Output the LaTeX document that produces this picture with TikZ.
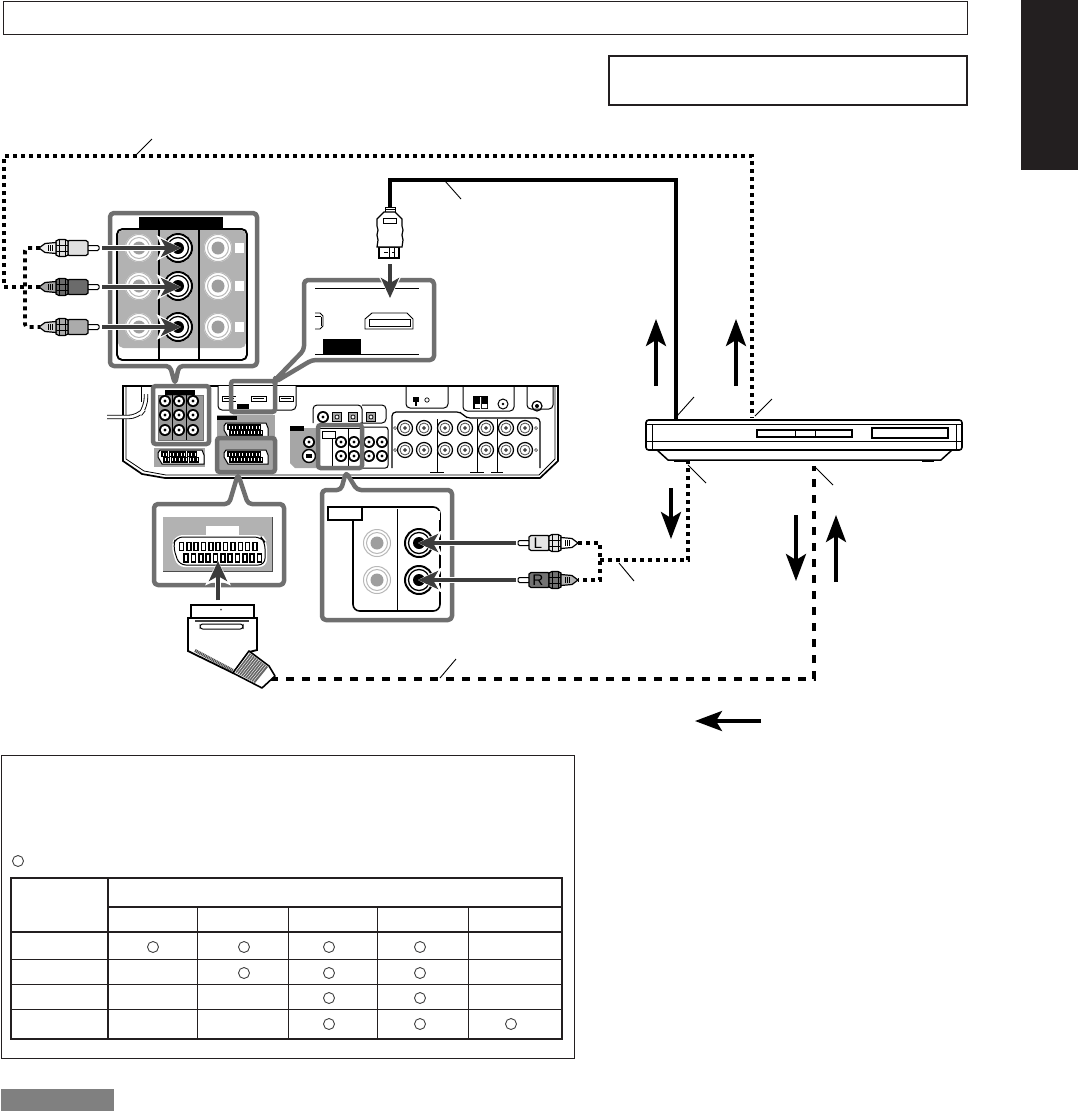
\documentclass[tikz,border=0pt]{standalone}
\usepackage{fontspec}
\setsansfont{Liberation Sans}
\usetikzlibrary{arrows.meta,calc}
\definecolor{callout}{HTML}{6F6F6F}
\definecolor{dk}{HTML}{3C3C3C}
\definecolor{panel}{HTML}{B2B2B2}
\definecolor{ink}{HTML}{231F20}
\def\px{0.75pt}
\tikzset{
  x=0.75pt,y=-0.75pt,
  frame/.style={draw=callout,line width=4.5*\px,fill=white,rounded corners=3pt,line join=round},
  mark box/.style={draw=callout,line width=4.5*\px,rounded corners=2pt},
  boldline/.style={draw=ink,line width=2*\px},
  dotcable/.style={draw=black,line width=4*\px,dash pattern=on 4*\px off 4*\px},
  smalldot/.style={draw=black,line width=3.6*\px,dash pattern=on 4*\px off 4*\px},
  dashcable/.style={draw=black,line width=4*\px,dash pattern=on 8*\px off 8*\px},
  solidcable/.style={draw=black,line width=4*\px},
  leader/.style={draw=black,line width=0.9*\px},
  bigarrow/.style={draw=black,line width=3.6*\px,-{Stealth[length=27*\px,width=20*\px,inset=6*\px]}},
  conarrow/.style={draw=dk,line width=4*\px,-{Stealth[length=20*\px,width=18*\px,inset=5*\px]}},
  halo/.style={draw=white,line width=6*\px,-{Stealth[length=24*\px,width=25*\px,inset=5*\px]}},
  tablecircle/.style={draw=black!75,line width=0.9*\px,fill=white},
}
\newcommand{\haloarrow}[2]{\draw[halo] #1 -- #2; \draw[conarrow] #1 -- #2;}
\newcommand{\jackpale}[2]{%
  \fill[white] (#1,#2) circle[radius=14];
  \draw[black!28,line width=1*\px] (#1,#2) circle[radius=13.5];
  \draw[black!28,line width=1*\px] (#1,#2) circle[radius=10.5];
  \fill[black!38] (#1,#2) circle[radius=6.5];}
\newcommand{\jackdark}[2]{%
  \fill[white] (#1,#2) circle[radius=15];
  \draw[black,line width=2*\px] (#1,#2) circle[radius=14];
  \draw[black,line width=1.3*\px] (#1,#2) circle[radius=10.5];
  \fill[black] (#1,#2) circle[radius=6];}
\newcommand{\minijack}[2]{%
  \fill[black] (#1,#2) circle[radius=6];
  \fill[white] (#1,#2) circle[radius=4.2];
  \fill[black] (#1,#2) circle[radius=1.6];}
\newcommand{\bigjack}[2]{%
  \draw[black,fill=white,line width=1.2*\px] (#1,#2) circle[radius=7.5];
  \draw[black!70,line width=0.8*\px] (#1,#2) circle[radius=5];
  \draw[black,fill=white,line width=0.8*\px] (#1,#2) circle[radius=1.4];}
% RCA plug: origin at the rear pin, running in +x towards the wire
\newcommand{\rcaplug}[5]{%
  \begin{scope}[shift={(#1,#2)},xscale=#3]
    \draw[black,fill=white,line width=1*\px,rounded corners=1pt] (0,-2.5) rectangle (12,2.5);
    \draw[black,fill=#4,line width=1.2*\px] (11,-6) -- (13,-7.5) -- (30,-7.5) -- (31,-6) -- (31,6) -- (30,7.5) -- (13,7.5) -- (11,6) -- cycle;
    \draw[black,fill=#4,line width=1.2*\px] (31,-7) -- (34,-8.5) -- (40,-8.5) -- (43,-7) -- (43,7) -- (40,8.5) -- (34,8.5) -- (31,7) -- cycle;
    \draw[black,line width=.8*\px] (34,-8.5) -- (34,8.5) (40,-8.5) -- (40,8.5) (31,-3) -- (43,-3) (31,3) -- (43,3);
    \draw[black,fill=#5,line width=1.2*\px] (43,-5.5) -- (54,-4.5) -- (60,0) -- (54,4.5) -- (43,5.5) -- cycle;
    \draw[black,line width=.7*\px] (47,-3) -- (47,3) (49,-3) -- (49,3) (51,-3) -- (51,3);
  \end{scope}}
% SCART socket outline with two rows of pins
\newcommand{\miniscart}[3]{%
  \begin{scope}[shift={(#1,#2)}]
    \draw[black,fill=white,line width=1*\px] (2,0) -- (#3-2,0) -- (#3,5) -- (#3,14) -- (4,14) -- (0,7) -- (0,3) -- cycle;
    \foreach \i in {0,...,9} {
      \draw[black,line width=1.1*\px] ({4+\i*(#3-10)/10},2) rectangle ++(2.2,4.5);
      \draw[black,line width=1.1*\px] ({6+\i*(#3-10)/10},7.5) rectangle ++(2.2,4.5);}
  \end{scope}}
\begin{document}
\begin{tikzpicture}
\useasboundingbox (0,0) rectangle (1078,1111);
\fill[white] (0,0) rectangle (1078,1111);
% page frames
\draw[ink,line width=1*\px] (3,1.5) rectangle (967,34.5);
\draw[ink,line width=2.4*\px] (609,56) rectangle (967,105);
\fill[ink] (1021,0) rectangle (1078,170);

% named points of the cables
\coordinate (player top a) at (676,421);
\coordinate (player top b) at (752,418);
\coordinate (player bot a) at (688,461);
\coordinate (player bot b) at (814,466);
\coordinate (hdmi end) at (390,207);
\coordinate (scart end) at (270,679);
\coordinate (cv mid) at (40,287);
\coordinate (audio node) at (600,560);

% cables
\draw[dotcable] (cv mid) -- (4,287) -- (4,156) -- (752,156) -- (player top b);
\draw[solidcable,line join=miter] (hdmi end) -- (390,180) -- (676,180) -- (player top a);
\draw[dashcable] (scart end) -- (814,679) -- (player bot b);
\draw[smalldot] (audio node) -- (688,560) -- (player bot a);
\draw[smalldot] (578,543) -- (600,543) -- (600,580) -- (578,580);
\draw[smalldot,rounded corners=2pt] (40,248) -- (25,248) -- (25,327) -- (40,327);

% leader lines
\draw[leader] (135,156) -- (152,139);
\draw[leader] (445,181) -- (461,199);
\draw[leader] (677,416) -- (694,397);
\draw[leader] (755,416) -- (772,399);
\draw[leader] (688,465) -- (706,483);
\draw[leader] (815,467) -- (833,485);
\draw[leader] (619,563) -- (634,581);
\draw[leader] (440,678) -- (456,659);

% free arrows
\draw[bigarrow] (656,386) -- (656,319);
\draw[bigarrow] (736,386) -- (736,319);
\draw[bigarrow] (671,488) -- (671,539);
\draw[bigarrow] (796,515) -- (796,581);
\draw[bigarrow] (836,582) -- (836,515);
\draw[bigarrow] (761,721) -- (695,721);

% ---- receiver rear panel
\draw[black,fill=white,line width=1.7*\px] (123,386) -- (558,386) -- (558,461) -- (540,478) -- (165,478) -- (142,474) -- (123,461) -- cycle;
\draw[black,line width=.8*\px] (126,386) -- (126,459) -- (144,471) -- (166,475) -- (539,475) -- (555,459) -- (555,386);
% power lead
\draw[black,line width=4.4*\px,rounded corners=7pt] (107,417) -- (138,417) -- (146,407) -- (146,394);
\draw[white,line width=2.6*\px,rounded corners=7pt] (106,417) -- (138,417) -- (146,407) -- (146,393);
\draw[black,fill=white,line width=1*\px,rounded corners=3pt] (141,386) -- (141,402) (151,402) -- (151,386);
% component block (mini)
\draw[black!55,fill=black!40] (158,395) rectangle (203,440);
\fill[black] (165,390) rectangle (195,395);
\draw[black,line width=.9*\px] (172,395) -- (172,440) (186,395) -- (186,440);
\foreach \x in {165,179,193} \foreach \y in {401,415,430} {\minijack{\x}{\y}}
% HDMI block (mini)
\draw[black,fill=white,line width=1*\px,rounded corners=3pt] (218,386) -- (218,410) -- (296,410) -- (296,386);
\foreach \x/\w in {222/14,251/15,279/14} {
  \draw[black,fill=white,line width=1*\px] (\x,396) rectangle ++(\w,5);
  \draw[black,line width=.8*\px] (\x+2,398.5) -- ++(\w-4,0);}
\fill[white] (236,394) rectangle (240,403);
\fill[black] (237,404) rectangle (249,409);
% SCART blocks (mini)
\fill[black!35] (217,415) rectangle (275,438);
\fill[black] (217,416) rectangle (237,420);
\miniscart{224}{423}{44}
\fill[black!35] (217,440) rectangle (275,470);
\miniscart{224}{450}{44}
\fill[black!35] (154,448) rectangle (205,467);
\miniscart{158}{450}{46}
% optical block
\draw[black,fill=white,line width=1*\px,rounded corners=3pt] (313,423) -- (313,405) -- (362,405) -- (362,423) (362,405) -- (386,405) -- (386,423) -- (360,423);
\minijack{323}{417}
\foreach \x in {337,353,371} {
  \draw[black,fill=black!35,line width=1*\px] (\x-4.5,412.5) rectangle (\x+4.5,421.5);
  \draw[black,fill=white,line width=.7*\px] (\x,417) circle[radius=2];}
% video panel
\fill[black!35] (290,428) -- (318,428) -- (318,468) -- (295,468) -- (290,463) -- cycle;
\fill[black] (290,426) rectangle (304,431);
\minijack{309}{442}
\draw[black,fill=white,line width=1.4*\px] (309,456) circle[radius=6.5];
\fill[black] (306,454) rectangle (312,458);
% audio jack block
\draw[black,fill=white,line width=1*\px,rounded corners=2pt] (362,427) -- (388,427) -- (388,468) -- (362,468);
\foreach \x in {369,382} \foreach \y in {442,456} {\minijack{\x}{\y}}
\fill[white] (318,424) rectangle (362,468);
\draw[black,line width=1*\px] (320,428) -- (360,428) (332,438) -- (332,468) (348,428) -- (348,468);
\draw[black,fill=white,line width=1*\px] (322,431) rectangle (335,438);
\foreach \x in {341,354} \foreach \y in {442,456} {\minijack{\x}{\y}}
% speaker block
\draw[black,fill=white,line width=1.2*\px,rounded corners=3pt] (392,468) -- (392,412) -- (461,412) -- (466,418) -- (540,418) -- (540,468);
\foreach \x in {405,424,445,465,486,506,525} \foreach \y in {428,450} {\bigjack{\x}{\y}}
\draw[black,line width=1*\px] (437,419) -- (437,472) (477,419) -- (477,472) (497,419) -- (497,472);
\draw[black,line width=1*\px] (430,472) -- (444,472) (470,472) -- (484,472) (491,472) -- (503,472);
\foreach \y in {428,450} {\draw[black!70,line width=.7*\px] (395,\y) circle[radius=1.5] (536,\y) circle[radius=1.5];}
% top right boxes
\draw[black,line width=1*\px,rounded corners=3pt] (406,386) -- (406,408) -- (448,408) -- (448,386);
\fill[black] (413,397) rectangle (419,402);
\fill[black] (415,402) rectangle (417,406);
\draw[black,line width=.7*\px] (427,400) circle[radius=2.2];
\draw[black,line width=1*\px,rounded corners=3pt] (463,386) -- (463,411) -- (514,411) -- (514,386);
\fill[black] (473,396) rectangle (488,409);
\fill[white] (475,404) rectangle (480,408) (482,404) rectangle (487,408) (480,397) rectangle (481,409);
\draw[black,line width=1*\px] (503,404) circle[radius=5];
\fill[black] (503,404) circle[radius=1.3];
\draw[black,line width=1*\px,rounded corners=3pt] (527,386) -- (527,409) -- (553,409) -- (553,386);
\draw[black,line width=1.2*\px] (537,406) circle[radius=5];
\fill[black] (537,406) circle[radius=2];

% ---- callout: component jacks
\draw[frame] (110,213) -- (257,213) -- (257,366) -- (179,366) -- (175,384) -- (170,366) -- (110,366) -- cycle;
\draw[black,fill=white,line width=1.6*\px,rounded corners=4pt] (117,229) rectangle (247,360);
\fill[panel,rounded corners=4pt] (118,230) rectangle (246,348);
\fill[black] (139,217) rectangle (223,230);
\foreach \y in {248,286,327} {
  \jackpale{139}{\y}
  \jackdark{178}{\y}
  \jackpale{218}{\y}
  \fill[white] (235,\y-5) rectangle (244,\y+5);}
\draw[black,line width=1.5*\px] (159,230) -- (159,360) (199,230) -- (199,360);
\draw[black,line width=1.6*\px,rounded corners=4pt] (117,229) rectangle (247,360);
\rcaplug{99}{248}{-1}{black!12}{black!6}
\rcaplug{99}{287}{-1}{black!58}{black!35}
\rcaplug{99}{327}{-1}{black!33}{black!18}
\haloarrow{(102,248)}{(181,248)}
\haloarrow{(102,287)}{(181,287)}
\haloarrow{(102,327)}{(181,327)}

% ---- callout: HDMI
\draw[frame] (304,280) -- (434,280) -- (434,360) -- (312,360) -- (275,382) -- (275,380) -- (304,350) -- cycle;
\draw[black,line width=.8*\px] (315,288) -- (419,288);
\draw[black,line width=1*\px] (315,354) -- (419,354);
\fill[black] (323,339) rectangle (361,354);
\draw[black,line width=.9*\px] (365,329) -- (365,319) -- (372,313) -- (407,313) -- (413,319) -- (413,329) -- cycle;
\draw[black,line width=.8*\px] (369,319) rectangle (410,326);
\draw[black,line width=.9*\px] (315,313) -- (320,313) -- (323,316) -- (323,326) -- (320,329) -- (315,329);
\draw[black,line width=.7*\px] (315,316.5) -- (321,316.5) (321,316.5) -- (321,326);
\draw[mark box] (231,381) rectangle (275,412);
\draw[mark box] (153,386) rectangle (209,444);

% HDMI plug
\draw[black,fill=white,line width=1*\px] (385,207) rectangle (395,212);
\draw[black,line width=.7*\px] (385,209.5) -- (395,209.5);
\draw[black,fill=white,line width=1.2*\px] (379,247) rectangle (399,258);
\draw[black,line width=.7*\px,dashed] (384,252.5) -- (394,252.5);
\draw[black,line width=.7*\px] (389,248) -- (389,258) (394,248) -- (394,258);
\draw[black,fill=white,line width=1.2*\px] (384,212) -- (395,212) -- (402,219) -- (402,226) -- (403,230) -- (402,235) -- (403,240) -- (402,247) -- (377,247) -- (378,240) -- (377,235) -- (378,230) -- (377,226) -- (377,219) -- cycle;
\draw[black,line width=.8*\px] (383,218) rectangle (396,223);
\haloarrow{(390,264)}{(390,298)}

% ---- callout: SCART
\draw[frame] (154,504) -- (229,504) -- (238,474) -- (248,504) -- (284,504) -- (284,585) -- (154,585) -- cycle;
\fill[panel] (163,517) rectangle (272,571);
\draw[black!70,line width=1*\px] (272,517) -- (272,571) -- (163,571);
\fill[white] (206,526) rectangle (239,535);
\draw[white,fill=white,line width=2*\px,rounded corners=5pt] (176,536) -- (262,536) -- (266,542) -- (266,566) -- (178,566) -- (172,546) -- cycle;
\draw[black,line width=1*\px,rounded corners=5pt] (176,537) -- (261,537) -- (265,542) -- (265,565) -- (179,565) -- (173,546) -- cycle;
\foreach \i in {0,...,10} {
  \draw[black,line width=1.6*\px] ({179.5+\i*7.35},542.5) rectangle ++(4,8);
  \draw[black,line width=1.6*\px] ({184+\i*7.35},554) rectangle ++(4,8);}
\draw[mark box] (217,438) rectangle (275,472);
\haloarrow{(218,600)}{(218,561)}
% SCART plug
\draw[black,fill=white,line width=1.6*\px] (191,605) rectangle (254,618);
\fill[black!70] (221,609.5) circle[radius=1];
\draw[black,fill=white,line width=1.8*\px] (188,618) -- (257,618) -- (257,650) -- (249,652) -- (233,673) -- (188,651) -- cycle;
\draw[black!75,line width=1.5*\px] (195,621) -- (249,621);
\draw[black,line width=1*\px,fill=white,rounded corners=2pt] (200,624) rectangle (243,629);
\draw[black!70,line width=3.2*\px,dash pattern=on .8pt off .5pt] (195,650.5) -- (233,670.5);
\draw[black,fill=white,line width=1.6*\px,line join=round] (249,651) -- (269,666) -- (275,676) -- (262,688) -- (233,673) -- cycle;
\fill[black!60] (249.5,653) -- (268,667) -- (255,683) -- (235,672) -- cycle;
\foreach \t in {0,.1,...,1} {\draw[white,line width=.4*\px] ($(249.5,653)!\t!(268,667)$) -- ($(235,672)!\t!(255,683)$);}

% ---- callout: audio jacks
\draw[frame] (322,490) -- (341,490) -- (346,472) -- (357,490) -- (452,490) -- (452,620) -- (322,620) -- cycle;
\draw[black,fill=white,line width=1.6*\px,rounded corners=5pt] (353,530) -- (353,611) -- (440,611) -- (440,507) -- (360,507);
\fill[white] (354,511) rectangle (440,520);
\draw[black,line width=1*\px] (397,509) -- (397,611);
\draw[black,fill=white,line width=1.6*\px] (328,507) rectangle (362,520);
\draw[black,line width=1.6*\px] (353,520) -- (353,600);
\jackpale{377}{543}
\jackpale{377}{580}
\jackdark{419}{543}
\jackdark{419}{580}
\draw[mark box] (318,425) rectangle (362,468);
\rcaplug{518}{543}{1}{black!10}{white}
\rcaplug{518}{580}{1}{black!55}{black!30}
\node[font=\sffamily,inner sep=0pt] (plug l) at (538,543) {\fontsize{11.5}{12}\selectfont L};
\node[font=\sffamily,inner sep=0pt] (plug r) at (538,580) {\fontsize{11.5}{12}\selectfont R};
\haloarrow{(516,543)}{(418,543)}
\haloarrow{(516,580)}{(418,580)}

% ---- disc player
\draw[black,fill=white,line width=1.5*\px,line join=round] (657,450) -- (668,460) -- (941,460) -- (952,450);
\draw[black,fill=white,line width=1.6*\px,rounded corners=2pt] (646,450) -- (646,420) -- (962,420) -- (962,450) -- cycle;
\draw[black,line width=.8*\px] (646,424) -- (652,424) -- (652,450) (646,441) -- (962,441) (962,424) -- (956,424) -- (956,450) (652,424) -- (956,424);
\draw[black,line width=2*\px] (652,450) -- (956,450);
\draw[black,fill=white,line width=1.5*\px] (757,430) rectangle (852,437);
\draw[black,line width=1*\px] (795,430) -- (795,437) (815,430) -- (815,437);
\draw[black,line width=1.1*\px] (872,428) rectangle (948,438);
\draw[black,line width=1*\px] (674,460) -- (674,461.5) -- (685,461.5) -- (685,460) (922,460) -- (922,461.5) -- (933,461.5) -- (933,460);

% ---- information box and table
\draw[ink,line width=.9*\px] (1,755.5) rectangle (574,1058);
\draw[tablecircle] (18,861) circle[radius=5.5];
\draw[ink,line width=.9*\px] (197.5,907) -- (197.5,1039) (288,907) -- (288,1039) (377,907) -- (377,1039) (468,907) -- (468,1039);
\draw[ink,line width=.9*\px] (10.5,959) -- (562,959) (10.5,984) -- (562,984) (10.5,1009) -- (562,1009);
\draw[boldline] (108,878) -- (108,1039) (108,907) -- (562,907) (10.5,932) -- (562,932);
\draw[boldline] (10.5,878) rectangle (562,1039);
\foreach \x/\y in {153/947,244/947,329/947,420/947,244/973,329/973,420/973,329/998,420/998,329/1024,420/1024,511/1024} {\draw[tablecircle] (\x,\y) circle[radius=5.5];}
\fill[black!50] (1,1089) rectangle (114,1111);
\end{tikzpicture}
\end{document}
